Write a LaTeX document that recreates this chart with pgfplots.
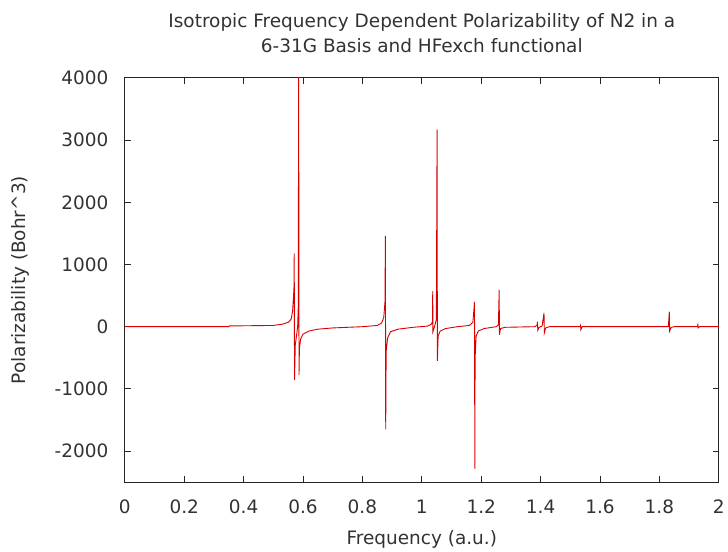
\documentclass[border=0pt]{standalone}
\usepackage{fontspec}
\setmainfont{DejaVu Sans}
\usepackage{pgfplots}
\pgfplotsset{compat=1.18}
\definecolor{gpred}{RGB}{218,0,0}
\definecolor{txt}{RGB}{50,50,50}
\begin{document}
\begin{tikzpicture}[x=1pt,y=1pt]
\begin{axis}[
  at={(0,0)}, anchor=south west,
  scale only axis, width=595pt, height=405pt,
  xmin=0, xmax=2, ymin=-2500, ymax=4000,
  xtick={0,0.2,0.4,0.6,0.8,1,1.2,1.4,1.6,1.8,2},
  ytick={-2000,-1000,0,1000,2000,3000,4000},
  /pgf/number format/1000 sep={},
  /pgf/number format/assume math mode=true,
  tick align=inside, major tick length=6pt,
  axis line style={line width=0.8pt, black!85},
  every tick/.style={line width=0.8pt, black!85},
  tick label style={font=\fontsize{18.5}{22}\selectfont, text=txt},
  xticklabel style={yshift=-14pt},
  yticklabel style={xshift=-13pt},
  label style={font=\fontsize{18.5}{22}\selectfont, text=txt},
  xlabel={Frequency (a.u.)},
  ylabel={Polarizability (Bohr\textasciicircum 3)},
  xlabel style={yshift=-10pt},
  ylabel style={at={(axis description cs:-0.176,0.5)}, anchor=center, rotate=0},
  title style={font=\fontsize{18.5}{25}\selectfont, text=txt, align=center, yshift=16pt},
  title={Isotropic Frequency Dependent Polarizability of N2 in a\\6-31G Basis and HFexch functional},
]
\addplot[gpred, line width=0.9pt] coordinates {
(0,0) (0.35,0) (0.352,12) (0.50,20) (0.53,40) (0.55,70) (0.56,120) (0.565,250)
(0.5695,600) (0.5705,1180) (0.5715,-860) (0.574,-300) (0.578,-150) (0.582,0)
(0.584,300) (0.5855,4500) (0.5865,-780) (0.588,-350) (0.592,-200) (0.60,-120)
(0.62,-70) (0.65,-40) (0.70,-20) (0.80,0) (0.85,20) (0.865,60) (0.872,150)
(0.876,400) (0.8775,1460) (0.8785,-1650) (0.880,-400) (0.885,-180) (0.895,-80)
(0.92,-40) (0.97,-10) (1.02,10) (1.032,40) (1.036,80) (1.0368,570) (1.0375,-80)
(1.044,20) (1.049,120) (1.0515,3170) (1.0525,-550) (1.055,-150) (1.062,-70)
(1.08,-30) (1.12,0) (1.16,20) (1.172,70) (1.1775,400) (1.1785,-2280) (1.1795,-500)
(1.183,-150) (1.19,-70) (1.21,-30) (1.25,0) (1.258,30) (1.2605,590) (1.2615,-130)
(1.265,-30) (1.28,-10) (1.38,0) (1.388,20) (1.3895,80) (1.3905,-60) (1.395,-10)
(1.405,10) (1.4115,220) (1.4125,-100) (1.417,-20) (1.43,0) (1.533,0) (1.5345,20)
(1.5355,-50) (1.54,0) (1.83,0) (1.8335,240) (1.8345,-70) (1.84,-10) (1.85,0)
(1.928,0) (1.9295,30) (1.9305,-20) (1.935,0) (2.0,0)
};
\end{axis}
\useasboundingbox (-125pt,-67pt) rectangle (603pt,483pt);
\end{tikzpicture}
\end{document}
